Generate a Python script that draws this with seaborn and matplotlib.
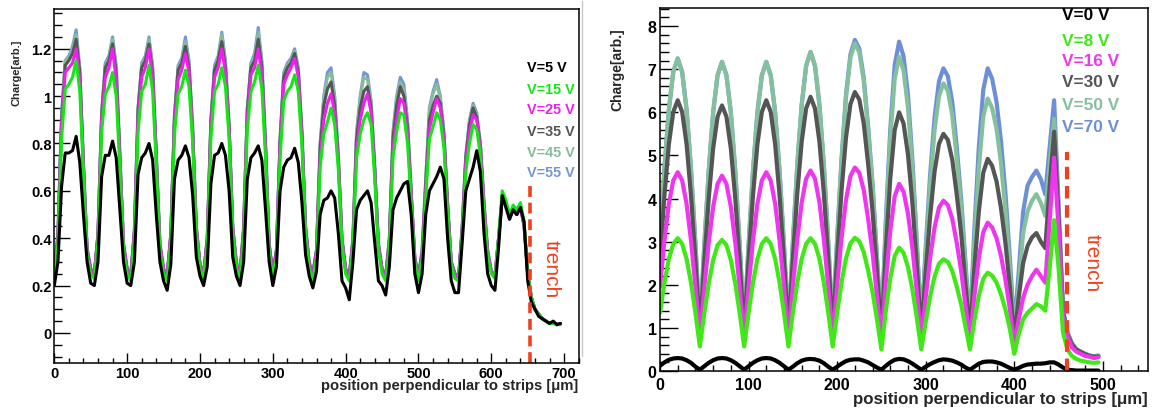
import numpy as np
import pandas as pd
import matplotlib
matplotlib.use("Agg")
import matplotlib.pyplot as plt
from matplotlib.lines import Line2D
from matplotlib.ticker import MultipleLocator, FuncFormatter
import seaborn as sns

# ---------------- left panel (5 um bins) ----------------
pos_left = np.arange(0, 700, 5)
left_labels = ["V=5 V", "V=15 V", "V=25 V", "V=35 V", "V=45 V", "V=55 V"]

q_l05 = [0.2, 0.3, 0.62, 0.76, 0.76, 0.77, 0.83, 0.72, 0.5, 0.3,
         0.21, 0.2, 0.3, 0.66, 0.75, 0.75, 0.81, 0.74, 0.52, 0.3,
         0.21, 0.2, 0.3, 0.67, 0.74, 0.76, 0.8, 0.73, 0.5, 0.3,
         0.22, 0.18, 0.29, 0.65, 0.73, 0.75, 0.79, 0.74, 0.58, 0.32,
         0.24, 0.2, 0.28, 0.63, 0.75, 0.76, 0.8, 0.75, 0.6, 0.32,
         0.24, 0.2, 0.3, 0.65, 0.74, 0.76, 0.79, 0.73, 0.52, 0.3,
         0.2, 0.28, 0.6, 0.7, 0.73, 0.74, 0.78, 0.72, 0.55, 0.33,
         0.24, 0.19, 0.26, 0.5, 0.56, 0.57, 0.6, 0.57, 0.42, 0.22,
         0.19, 0.14, 0.3, 0.52, 0.56, 0.58, 0.6, 0.55, 0.38, 0.22,
         0.2, 0.16, 0.28, 0.52, 0.57, 0.6, 0.63, 0.64, 0.5, 0.25,
         0.17, 0.25, 0.5, 0.6, 0.63, 0.66, 0.7, 0.65, 0.4, 0.22,
         0.17, 0.17, 0.38, 0.6, 0.65, 0.7, 0.77, 0.68, 0.42, 0.25,
         0.2, 0.18, 0.36, 0.58, 0.53, 0.48, 0.52, 0.5, 0.53, 0.47,
         0.22, 0.13, 0.1, 0.07, 0.06, 0.05, 0.04, 0.05, 0.035, 0.04]
q_l15 = [0.25, 0.38, 0.82, 1.03, 1.05, 1.08, 1.15, 1.02, 0.67, 0.33,
         0.25, 0.23, 0.39, 0.85, 1.01, 1.04, 1.1, 1.0, 0.7, 0.35,
         0.25, 0.22, 0.4, 0.85, 1.02, 1.05, 1.13, 1.02, 0.71, 0.35,
         0.25, 0.22, 0.39, 0.84, 1.01, 1.04, 1.11, 1.04, 0.8, 0.42,
         0.27, 0.23, 0.37, 0.82, 1.02, 1.05, 1.12, 1.04, 0.82, 0.42,
         0.27, 0.23, 0.4, 0.86, 1.02, 1.06, 1.13, 1.03, 0.74, 0.35,
         0.23, 0.32, 0.74, 0.98, 1.02, 1.04, 1.09, 1.02, 0.79, 0.42,
         0.27, 0.22, 0.32, 0.7, 0.84, 0.89, 0.95, 0.88, 0.69, 0.37,
         0.25, 0.22, 0.36, 0.74, 0.84, 0.9, 0.93, 0.88, 0.65, 0.35,
         0.25, 0.22, 0.36, 0.74, 0.85, 0.93, 0.92, 0.8, 0.55, 0.3,
         0.22, 0.31, 0.57, 0.82, 0.87, 0.93, 0.9, 0.78, 0.51, 0.29,
         0.23, 0.22, 0.41, 0.68, 0.8, 0.88, 0.86, 0.75, 0.51, 0.32,
         0.25, 0.23, 0.4, 0.6, 0.56, 0.5, 0.54, 0.52, 0.55, 0.47,
         0.25, 0.15, 0.1, 0.08, 0.06, 0.05, 0.04, 0.04, 0.035, 0.035]
q_l25 = [0.26, 0.4, 0.88, 1.1, 1.12, 1.14, 1.2, 1.07, 0.7, 0.35,
         0.27, 0.25, 0.41, 0.9, 1.08, 1.12, 1.2, 1.07, 0.74, 0.37,
         0.27, 0.25, 0.42, 0.91, 1.08, 1.12, 1.2, 1.08, 0.74, 0.37,
         0.27, 0.25, 0.41, 0.89, 1.07, 1.11, 1.18, 1.1, 0.84, 0.44,
         0.29, 0.25, 0.39, 0.87, 1.08, 1.12, 1.2, 1.1, 0.86, 0.44,
         0.29, 0.25, 0.43, 0.91, 1.09, 1.12, 1.2, 1.09, 0.78, 0.37,
         0.25, 0.34, 0.79, 1.05, 1.09, 1.12, 1.16, 1.08, 0.83, 0.44,
         0.29, 0.25, 0.34, 0.74, 0.9, 0.97, 1.01, 0.93, 0.72, 0.39,
         0.27, 0.24, 0.38, 0.78, 0.9, 0.97, 1.01, 0.93, 0.68, 0.37,
         0.27, 0.24, 0.38, 0.78, 0.9, 0.99, 0.97, 0.85, 0.58, 0.31,
         0.24, 0.33, 0.6, 0.86, 0.93, 0.99, 0.95, 0.82, 0.53, 0.3,
         0.25, 0.23, 0.43, 0.72, 0.85, 0.92, 0.9, 0.78, 0.53, 0.34,
         0.26, 0.24, 0.4, 0.57, 0.54, 0.49, 0.52, 0.5, 0.53, 0.46,
         0.25, 0.15, 0.1, 0.08, 0.06, 0.05, 0.04, 0.045, 0.035, 0.04]
q_l35 = [0.26, 0.41, 0.9, 1.13, 1.15, 1.18, 1.24, 1.1, 0.71, 0.35,
         0.27, 0.25, 0.42, 0.92, 1.12, 1.15, 1.22, 1.1, 0.75, 0.37,
         0.27, 0.24, 0.43, 0.94, 1.12, 1.15, 1.22, 1.1, 0.75, 0.37,
         0.27, 0.24, 0.42, 0.91, 1.11, 1.14, 1.21, 1.12, 0.85, 0.44,
         0.29, 0.25, 0.4, 0.89, 1.11, 1.15, 1.23, 1.12, 0.87, 0.44,
         0.29, 0.25, 0.44, 0.94, 1.12, 1.15, 1.24, 1.12, 0.79, 0.37,
         0.25, 0.35, 0.81, 1.08, 1.12, 1.14, 1.18, 1.1, 0.84, 0.44,
         0.29, 0.25, 0.35, 0.78, 0.96, 1.03, 1.06, 0.96, 0.73, 0.39,
         0.27, 0.24, 0.39, 0.82, 0.95, 1.02, 1.04, 0.95, 0.69, 0.37,
         0.27, 0.24, 0.39, 0.82, 0.96, 1.04, 1.0, 0.87, 0.59, 0.31,
         0.24, 0.34, 0.63, 0.9, 0.96, 1.0, 0.97, 0.83, 0.54, 0.3,
         0.25, 0.23, 0.44, 0.74, 0.88, 0.95, 0.91, 0.79, 0.54, 0.34,
         0.26, 0.24, 0.4, 0.57, 0.54, 0.49, 0.52, 0.5, 0.53, 0.45,
         0.25, 0.15, 0.1, 0.08, 0.06, 0.05, 0.04, 0.045, 0.035, 0.04]
q_l45 = [0.26, 0.42, 0.92, 1.15, 1.16, 1.2, 1.26, 1.11, 0.72, 0.36,
         0.27, 0.25, 0.42, 0.93, 1.13, 1.16, 1.24, 1.12, 0.76, 0.38,
         0.27, 0.24, 0.44, 0.95, 1.13, 1.16, 1.24, 1.12, 0.76, 0.38,
         0.27, 0.24, 0.42, 0.92, 1.12, 1.15, 1.23, 1.14, 0.86, 0.45,
         0.29, 0.25, 0.4, 0.9, 1.12, 1.16, 1.26, 1.14, 0.88, 0.45,
         0.3, 0.25, 0.45, 0.95, 1.13, 1.17, 1.27, 1.14, 0.8, 0.38,
         0.25, 0.35, 0.82, 1.09, 1.13, 1.15, 1.19, 1.11, 0.85, 0.45,
         0.3, 0.25, 0.35, 0.8, 0.99, 1.08, 1.1, 0.99, 0.75, 0.4,
         0.27, 0.24, 0.4, 0.84, 0.99, 1.08, 1.07, 0.97, 0.7, 0.38,
         0.27, 0.24, 0.4, 0.84, 0.99, 1.06, 1.03, 0.89, 0.6, 0.32,
         0.24, 0.35, 0.65, 0.94, 1.01, 1.05, 0.99, 0.84, 0.55, 0.3,
         0.25, 0.23, 0.45, 0.75, 0.89, 0.96, 0.92, 0.8, 0.55, 0.35,
         0.26, 0.24, 0.4, 0.58, 0.55, 0.49, 0.52, 0.5, 0.54, 0.46,
         0.25, 0.15, 0.1, 0.08, 0.06, 0.05, 0.04, 0.045, 0.035, 0.04]
q_l55 = [0.26, 0.42, 0.92, 1.15, 1.17, 1.21, 1.28, 1.12, 0.72, 0.36,
         0.27, 0.25, 0.42, 0.93, 1.14, 1.17, 1.25, 1.13, 0.76, 0.38,
         0.27, 0.24, 0.44, 0.95, 1.14, 1.17, 1.25, 1.13, 0.76, 0.38,
         0.27, 0.24, 0.42, 0.92, 1.13, 1.16, 1.25, 1.15, 0.86, 0.45,
         0.29, 0.25, 0.4, 0.9, 1.13, 1.17, 1.27, 1.15, 0.88, 0.45,
         0.3, 0.25, 0.45, 0.95, 1.14, 1.18, 1.29, 1.15, 0.8, 0.38,
         0.25, 0.35, 0.82, 1.1, 1.14, 1.16, 1.2, 1.12, 0.85, 0.45,
         0.3, 0.25, 0.35, 0.8, 1.0, 1.1, 1.12, 1.0, 0.75, 0.4,
         0.27, 0.24, 0.4, 0.85, 1.0, 1.1, 1.09, 0.98, 0.7, 0.38,
         0.27, 0.24, 0.4, 0.85, 1.0, 1.08, 1.05, 0.9, 0.6, 0.32,
         0.24, 0.35, 0.65, 0.95, 1.02, 1.07, 1.0, 0.85, 0.55, 0.3,
         0.25, 0.23, 0.45, 0.75, 0.9, 0.97, 0.93, 0.8, 0.55, 0.35,
         0.26, 0.24, 0.4, 0.58, 0.55, 0.48, 0.52, 0.5, 0.54, 0.45,
         0.25, 0.15, 0.1, 0.08, 0.06, 0.05, 0.04, 0.045, 0.035, 0.04]
left_colors = ["#000000", "#14e614", "#f01ef0", "#555555", "#86bb9c", "#7595d6"]

# ---------------- right panel (5 um bins) ----------------
pos_right = np.arange(0, 500, 5)
right_labels = ["V=0 V", "V=8 V", "V=16 V", "V=30 V", "V=50 V", "V=70 V"]

q_r00 = [0.12, 0.2, 0.26, 0.29, 0.3, 0.29, 0.25, 0.19, 0.1, 0.03,
         0.11, 0.19, 0.25, 0.29, 0.3, 0.29, 0.25, 0.19, 0.11, 0.03,
         0.11, 0.19, 0.25, 0.29, 0.3, 0.29, 0.25, 0.19, 0.11, 0.03,
         0.1, 0.18, 0.24, 0.27, 0.28, 0.27, 0.24, 0.18, 0.1, 0.03,
         0.1, 0.17, 0.23, 0.26, 0.27, 0.27, 0.24, 0.2, 0.14, 0.08, 0.03,
         0.12, 0.2, 0.26, 0.28, 0.27, 0.23, 0.17, 0.1, 0.03,
         0.1, 0.16, 0.21, 0.25, 0.27, 0.26, 0.24, 0.2, 0.15, 0.08, 0.03,
         0.1, 0.17, 0.21, 0.22, 0.22, 0.2, 0.17, 0.12, 0.07, 0.03,
         0.07, 0.12, 0.15, 0.16, 0.17, 0.17, 0.18, 0.2, 0.2, 0.15,
         0.08, 0.03, 0.02, 0.01, 0.01, 0.01, 0.01, 0.01, 0.01]
q_r08 = [1.35, 2.05, 2.6, 2.95, 3.08, 2.95, 2.6, 2.05, 1.35, 0.57,
         1.34, 2.03, 2.57, 2.92, 3.04, 2.92, 2.57, 2.03, 1.34, 0.57,
         1.35, 2.05, 2.6, 2.95, 3.08, 2.95, 2.6, 2.05, 1.35, 0.57,
         1.35, 2.05, 2.6, 2.95, 3.08, 2.95, 2.6, 2.05, 1.35, 0.57,
         1.35, 2.06, 2.61, 2.96, 3.09, 3.01, 2.76, 2.33, 1.83, 1.2, 0.5,
         1.4, 2.15, 2.67, 2.86, 2.74, 2.41, 1.89, 1.23, 0.5,
         1.15, 1.73, 2.19, 2.49, 2.59, 2.53, 2.32, 1.96, 1.55, 1.02, 0.5,
         1.18, 1.75, 2.14, 2.28, 2.21, 2.05, 1.78, 1.43, 0.98, 0.4,
         0.85, 1.2, 1.35, 1.45, 1.55, 1.5, 1.4, 2.4, 3.5, 2.4,
         0.9, 0.5, 0.35, 0.28, 0.24, 0.22, 0.2, 0.19, 0.2]
q_r16 = [1.95, 3.03, 3.88, 4.42, 4.61, 4.42, 3.88, 3.03, 1.95, 0.75,
         1.92, 2.98, 3.81, 4.34, 4.53, 4.34, 3.81, 2.98, 1.92, 0.75,
         1.95, 3.03, 3.88, 4.42, 4.61, 4.42, 3.88, 3.03, 1.95, 0.75,
         1.96, 3.05, 3.91, 4.46, 4.65, 4.46, 3.91, 3.05, 1.96, 0.75,
         1.98, 3.09, 3.97, 4.52, 4.72, 4.6, 4.2, 3.53, 2.74, 1.74, 0.7,
         2.08, 3.25, 4.05, 4.34, 4.16, 3.65, 2.85, 1.83, 0.7,
         1.71, 2.62, 3.33, 3.79, 3.95, 3.85, 3.53, 2.98, 2.33, 1.51, 0.7,
         1.74, 2.62, 3.22, 3.44, 3.33, 3.08, 2.67, 2.12, 1.44, 0.6,
         1.2, 1.7, 2.0, 2.2, 2.35, 2.2, 2.05, 3.5, 4.95, 3.3,
         1.3, 0.8, 0.55, 0.45, 0.4, 0.35, 0.33, 0.3, 0.32]
q_r30 = [2.57, 4.07, 5.26, 6.01, 6.28, 6.01, 5.26, 4.07, 2.57, 0.9,
         2.53, 4.0, 5.16, 5.9, 6.16, 5.9, 5.16, 4.0, 2.53, 0.9,
         2.57, 4.07, 5.26, 6.01, 6.28, 6.01, 5.26, 4.07, 2.57, 0.9,
         2.59, 4.12, 5.32, 6.09, 6.36, 6.09, 5.32, 4.12, 2.59, 0.9,
         2.63, 4.19, 5.41, 6.19, 6.47, 6.3, 5.75, 4.8, 3.7, 2.3, 0.85,
         2.81, 4.46, 5.59, 6.0, 5.74, 5.02, 3.89, 2.45, 0.85,
         2.29, 3.59, 4.62, 5.27, 5.5, 5.36, 4.9, 4.1, 3.2, 2.0, 0.85,
         2.4, 3.7, 4.6, 4.92, 4.76, 4.4, 3.78, 2.97, 1.95, 0.75,
         1.7, 2.5, 2.9, 3.1, 3.2, 3.0, 2.85, 4.3, 5.55, 3.6,
         1.4, 0.85, 0.62, 0.5, 0.44, 0.39, 0.35, 0.33, 0.34]
q_r50 = [2.94, 4.69, 6.06, 6.94, 7.25, 6.94, 6.06, 4.69, 2.94, 1.0,
         2.91, 4.64, 6.0, 6.86, 7.17, 6.86, 6.0, 4.64, 2.91, 1.0,
         2.91, 4.64, 6.0, 6.86, 7.17, 6.86, 6.0, 4.64, 2.91, 1.0,
         2.98, 4.78, 6.18, 7.08, 7.4, 7.08, 6.18, 4.78, 2.98, 1.0,
         3.05, 4.89, 6.35, 7.27, 7.6, 7.4, 6.74, 5.6, 4.3, 2.6, 0.95,
         3.36, 5.4, 6.78, 7.29, 6.97, 6.1, 4.7, 2.92, 0.95,
         2.72, 4.32, 5.58, 6.38, 6.67, 6.5, 5.93, 4.95, 3.8, 2.38, 0.95,
         2.99, 4.71, 5.9, 6.32, 6.1, 5.62, 4.82, 3.74, 2.4, 0.85,
         2.0, 3.2, 3.7, 3.95, 4.1, 3.9, 3.6, 4.8, 5.85, 3.7,
         1.4, 0.9, 0.65, 0.5, 0.45, 0.4, 0.35, 0.33, 0.35]
q_r70 = [2.94, 4.69, 6.06, 6.94, 7.25, 6.94, 6.06, 4.69, 2.94, 1.0,
         2.91, 4.64, 6.0, 6.86, 7.17, 6.86, 6.0, 4.64, 2.91, 1.0,
         2.91, 4.64, 6.0, 6.86, 7.17, 6.86, 6.0, 4.64, 2.91, 1.0,
         2.98, 4.78, 6.18, 7.08, 7.4, 7.08, 6.18, 4.78, 2.98, 1.0,
         3.07, 4.93, 6.4, 7.34, 7.68, 7.48, 6.81, 5.67, 4.34, 2.63, 0.97,
         3.5, 5.6, 7.1, 7.64, 7.3, 6.4, 4.9, 3.0, 1.0,
         2.87, 4.55, 5.88, 6.72, 7.02, 6.84, 6.24, 5.21, 4.0, 2.5, 1.0,
         3.3, 5.2, 6.52, 7.02, 6.78, 6.24, 5.34, 4.14, 2.64, 0.95,
         2.3, 3.7, 4.3, 4.5, 4.65, 4.45, 4.1, 5.2, 6.28, 3.9,
         1.4, 0.9, 0.65, 0.5, 0.45, 0.4, 0.36, 0.34, 0.36]
right_colors = ["#000000", "#3fe816", "#ee36ee", "#555555", "#84bf9e", "#6d8fd8"]

trench_color = "#f0401e"


def long_table(pos, labels, series):
    wide = pd.DataFrame(dict(zip(labels, series)))
    wide["pos"] = pos
    return wide.melt(id_vars="pos", var_name="bias", value_name="charge")


left_df = long_table(pos_left, left_labels, [q_l05, q_l15, q_l25, q_l35, q_l45, q_l55])
right_df = long_table(pos_right, right_labels, [q_r00, q_r08, q_r16, q_r30, q_r50, q_r70])

sns.set_style("white")
plt.rcParams["font.family"] = ["Liberation Sans", "DejaVu Sans"]
plt.rcParams["font.weight"] = "bold"

W, H = 1152, 410
fig = plt.figure(figsize=(W / 100, H / 100), dpi=100)
ax1 = fig.add_axes([54.3 / W, 1 - 364 / H, (578.7 - 54.3) / W, (364 - 10) / H])
ax2 = fig.add_axes([660 / W, 1 - 372 / H, (1148 - 660) / W, (372 - 9) / H])

# draw high voltages first so the low ones sit on top
sns.lineplot(data=left_df, x="pos", y="charge", hue="bias",
             hue_order=left_labels[::-1], palette=left_colors[::-1],
             estimator=None, sort=False, lw=2.2, legend=False, ax=ax1)
sns.lineplot(data=right_df, x="pos", y="charge", hue="bias",
             hue_order=right_labels[::-1], palette=right_colors[::-1],
             estimator=None, sort=False, lw=3.0, legend=False, ax=ax2)

fmt = FuncFormatter(lambda v, p: f"{v:g}")
for ax, xmax, ylim, ymaj, ymin, tsize in [
        (ax1, 720, (-0.127, 1.368), 0.2, 0.05, 10.5),
        (ax2, 551, (0, 8.42), 1, 0.2, 11.5)]:
    ax.set_xlim(0, xmax)
    ax.set_ylim(*ylim)
    ax.xaxis.set_major_locator(MultipleLocator(100))
    ax.xaxis.set_minor_locator(MultipleLocator(20))
    ax.yaxis.set_major_locator(MultipleLocator(ymaj))
    ax.yaxis.set_minor_locator(MultipleLocator(ymin))
    ax.xaxis.set_major_formatter(fmt)
    ax.yaxis.set_major_formatter(fmt)
    ax.tick_params(which="both", direction="in", bottom=True, left=True,
                   top=False, right=False, width=1, colors="black", labelsize=tsize)
    ax.set_xlabel("")
    ax.set_ylabel("")
    for sp in ax.spines.values():
        sp.set_color("black")
        sp.set_linewidth(1.1)

ax1.tick_params(axis="y", which="major", length=11.5, pad=2)
ax1.tick_params(axis="y", which="minor", length=5.8)
ax1.tick_params(axis="x", which="major", length=7, pad=2)
ax1.tick_params(axis="x", which="minor", length=3.6)
ax2.tick_params(axis="y", which="major", length=13, pad=2.5)
ax2.tick_params(axis="y", which="minor", length=6.5)
ax2.tick_params(axis="x", which="major", length=7.5, pad=4)
ax2.tick_params(axis="x", which="minor", length=4)

# trench markers
ax1.plot([653, 653], [-0.127, 0.62], color=trench_color, lw=2.6, dashes=(3, 1.6))
ax2.plot([460, 460], [0, 5.08], color=trench_color, lw=3.0, dashes=(3, 1.6))
ax1.text(682, 0.275, "trench", color=trench_color, fontsize=15, fontweight="normal",
         rotation=-90, ha="center", va="center")
ax2.text(487.6, 2.52, "trench", color=trench_color, fontsize=15, fontweight="normal",
         rotation=-90, ha="center", va="center")

# axis titles
fig.text(17 / W, 1 - 73 / H, "Charge[arb.]", rotation=90, fontsize=8,
         ha="center", va="center")
fig.text(617.5 / W, 1 - 70 / H, "Charge[arb.]", rotation=90, fontsize=10,
         ha="center", va="center")
fig.text(578 / W, 1 - 386 / H, "position perpendicular to strips [\u03bcm]",
         fontsize=10.6, ha="right", va="center")
fig.text(1148 / W, 1 - 400 / H, "position perpendicular to strips [\u03bcm]",
         fontsize=12.2, ha="right", va="center")

# text legends
for lab, col, ypx in zip(left_labels, left_colors, [68, 90, 110, 132, 153, 173]):
    fig.text(527 / W, 1 - ypx / H, lab, color=col, fontsize=10.4, ha="left", va="center")
for lab, col, ypx in zip(right_labels, right_colors, [15, 42, 62, 83, 106, 127]):
    fig.text(1062 / W, 1 - ypx / H, lab, color=col, fontsize=12.4, ha="left", va="center")

# edge of the left canvas
fig.add_artist(Line2D([582 / W, 582 / W], [1 - 357 / H, 1 - 2 / H],
                      transform=fig.transFigure, color="#c8c8c8", lw=1))

fig.savefig("out.png", dpi=100, facecolor="white")
